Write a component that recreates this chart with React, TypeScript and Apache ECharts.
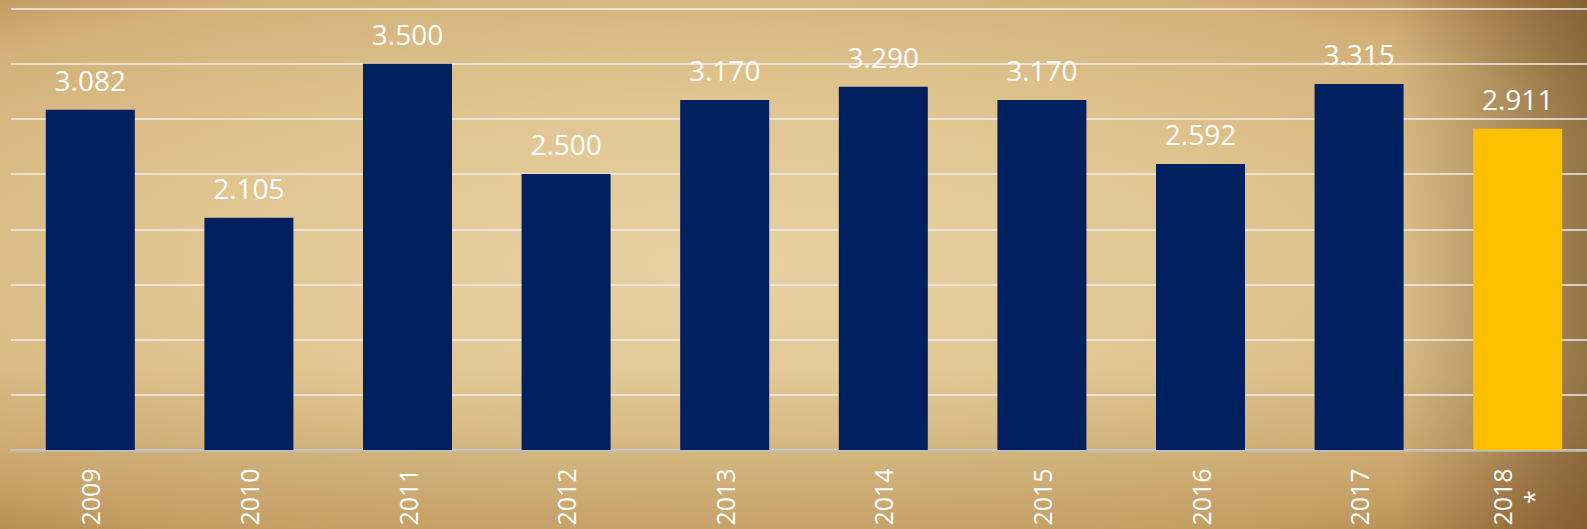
import React, { useEffect, useRef } from "react";
import * as echarts from "echarts";

const categories = ["2009", "2010", "2011", "2012", "2013", "2014", "2015", "2016", "2017", "2018\n*"];
const values = [3.082, 2.105, 3.5, 2.5, 3.17, 3.29, 3.17, 2.592, 3.315, 2.911];
const barColors = ["#002060", "#002060", "#002060", "#002060", "#002060", "#002060", "#002060", "#002060", "#002060", "#FFC000"];
const yTicks = { min: 0, max: 4, interval: 0.5 };

export default function App() {
  const ref = useRef<HTMLDivElement>(null);
  useEffect(() => {
    document.body.style.margin = "0";
    document.body.style.overflow = "hidden";
    const chart = echarts.init(ref.current!, null, { renderer: "svg" });
    chart.setOption({
      animation: false,
      backgroundColor: "transparent",
      grid: { left: 11, right: 0, top: 8.5, bottom: 79, containLabel: false },
      xAxis: {
        type: "category",
        data: categories,
        axisLine: { show: true, lineStyle: { color: "#bfbfbf", width: 2.5 } },
        axisTick: { show: false },
        axisLabel: {
          rotate: 90,
          align: "center",
          verticalAlign: "middle",
          margin: 47,
          color: "#ffffff",
          fontFamily: "Open Sans",
          fontSize: 25,
          lineHeight: 31,
          interval: 0,
        },
      },
      yAxis: {
        type: "value",
        min: yTicks.min,
        max: yTicks.max,
        interval: yTicks.interval,
        axisLabel: { show: false },
        axisLine: { show: false },
        axisTick: { show: false },
        splitLine: { lineStyle: { color: "#eeeeee", width: 1.5 } },
      },
      series: [
        {
          type: "bar",
          barWidth: 89,
          data: values.map((v, i) => ({ value: v, itemStyle: { color: barColors[i] } })),
          label: {
            show: true,
            position: "top",
            distance: 16,
            color: "#ffffff",
            fontFamily: "Open Sans",
            fontSize: 28,
            formatter: (p: any) => Number(p.value).toFixed(3),
          },
        },
      ],
    });
    return () => chart.dispose();
  }, []);
  return (
    <div
      style={{
        width: 1587,
        height: 529,
        overflow: "hidden",
        position: "relative",
        background:
          "linear-gradient(to right, rgba(0,0,0,0) 88%, rgba(95,62,25,0.55) 100%), " +
          "linear-gradient(to bottom, rgba(0,0,0,0) 70%, rgba(150,105,45,0.25) 100%), " +
          "radial-gradient(ellipse at 45% 50%, #e8d1a4 0%, #e0c590 45%, #d3b179 80%, #b58d55 100%)",
      }}
    >
      <div ref={ref} style={{ width: 1597, height: 529, position: "absolute", left: 0, top: 0 }} />
    </div>
  );
}
